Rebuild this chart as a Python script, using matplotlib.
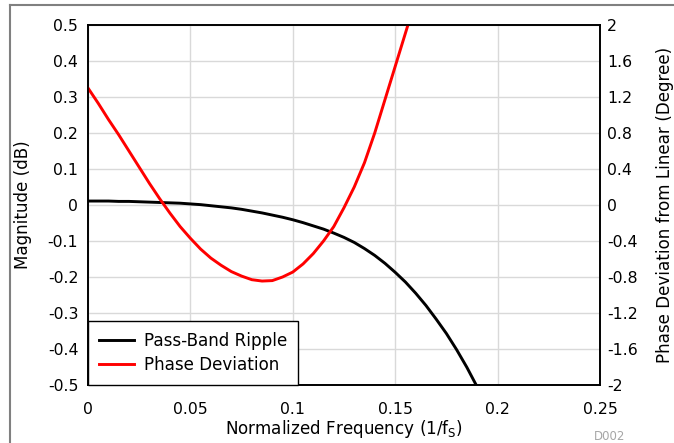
import matplotlib
matplotlib.use('Agg')
import matplotlib.pyplot as plt
from matplotlib.lines import Line2D

plt.rcParams['font.family'] = ['DejaVu Sans']
plt.rcParams['mathtext.fontset'] = 'dejavusans'

# normalized frequency (1/fS)
freq = [0.000, 0.005, 0.010, 0.015, 0.020, 0.025, 0.030, 0.035, 0.040, 0.045,
        0.050, 0.055, 0.060, 0.065, 0.070, 0.075, 0.080, 0.085, 0.090, 0.095,
        0.100, 0.105, 0.110, 0.115, 0.120, 0.125, 0.130, 0.135, 0.140, 0.145,
        0.150, 0.155, 0.160, 0.165, 0.170, 0.175, 0.180, 0.185, 0.190]

# pass-band ripple (dB)
ripple = [0.011, 0.011, 0.011, 0.010, 0.010, 0.009, 0.008, 0.007, 0.006, 0.005,
          0.003, 0.001, -0.002, -0.005, -0.008, -0.012, -0.017, -0.022, -0.028, -0.034,
          -0.041, -0.049, -0.058, -0.067, -0.078, -0.090, -0.104, -0.121, -0.140, -0.162,
          -0.187, -0.214, -0.245, -0.279, -0.317, -0.357, -0.402, -0.451, -0.505]

# phase deviation from linear (degree), ends where it leaves the top of the chart
phase_freq = freq[:33]
phase = [1.30, 1.13, 0.95, 0.78, 0.60, 0.42, 0.24, 0.07, -0.09, -0.24,
         -0.37, -0.49, -0.59, -0.67, -0.74, -0.79, -0.83, -0.845, -0.84, -0.80,
         -0.745, -0.655, -0.54, -0.40, -0.24, -0.03, 0.20, 0.47, 0.80, 1.17,
         1.54, 1.91, 2.28]

xticks = [0, 0.05, 0.1, 0.15, 0.2, 0.25]
xlabels = ['0', '0.05', '0.1', '0.15', '0.2', '0.25']
yticks = [-0.5, -0.4, -0.3, -0.2, -0.1, 0, 0.1, 0.2, 0.3, 0.4, 0.5]
ylabels = ['-0.5', '-0.4', '-0.3', '-0.2', '-0.1', '0', '0.1', '0.2', '0.3', '0.4', '0.5']
y2ticks = [-2, -1.6, -1.2, -0.8, -0.4, 0, 0.4, 0.8, 1.2, 1.6, 2]
y2labels = ['-2', '-1.6', '-1.2', '-0.8', '-0.4', '0', '0.4', '0.8', '1.2', '1.6', '2']

fs = 11.3     # tick labels
fl = 12.1     # axis labels and legend
lw = 2.1
fig = plt.figure(figsize=(6.74, 4.43), dpi=100)
ax = fig.add_axes([88/674, 1 - 385/443, 512/674, 360/443])
ax2 = ax.twinx()

ax.plot(freq, ripple, color='black', lw=lw)
ax2.plot(phase_freq, phase, color='#ff0000', lw=lw)

ax.set_xlim(0, 0.25)
ax.set_ylim(-0.5, 0.5)
ax2.set_ylim(-2, 2)
ax.set_xticks(xticks, xlabels, fontsize=fs)
ax.set_yticks(yticks, ylabels, fontsize=fs)
ax2.set_yticks(y2ticks, y2labels, fontsize=fs)
ax.tick_params(axis='x', length=0, pad=12)
ax.tick_params(axis='y', length=0, pad=7)
ax2.tick_params(axis='y', length=0, pad=5)
ax.grid(True, color='#d9d9d9', lw=1)
ax.set_axisbelow(True)
for a in (ax, ax2):
    for s in a.spines.values():
        s.set_linewidth(1.2)
        s.set_color('black')

ax.set_xlabel(r'Normalized Frequency (1/f$_\mathregular{S}$)', fontsize=fl, labelpad=1)
ax.set_ylabel('Magnitude (dB)', fontsize=fl, labelpad=11)
ax2.set_ylabel('Phase Deviation from Linear (Degree)', fontsize=fl, labelpad=13)

handles = [Line2D([], [], color='black', lw=lw),
           Line2D([], [], color='#ff0000', lw=lw)]
leg = ax2.legend(handles, ['Pass-Band Ripple', 'Phase Deviation'], loc='lower left',
                 bbox_to_anchor=(0, 0), borderaxespad=0, fontsize=fl, fancybox=False,
                 framealpha=1, edgecolor='black', handlelength=2.1, handletextpad=0.6,
                 labelspacing=0.35, borderpad=0.65)
leg.get_frame().set_linewidth(1.0)

fig.text(610/674, 1 - 437/443, 'D002', fontsize=8.5, color='#a6a6a6', ha='center', va='center')

# page border lines
fig.add_artist(Line2D([10/674, 1], [1 - 5/443] * 2, color='#808080', lw=1.5))
fig.add_artist(Line2D([10/674] * 2, [0, 1 - 5/443], color='#808080', lw=1.5))

fig.savefig('out.png', dpi=100)
